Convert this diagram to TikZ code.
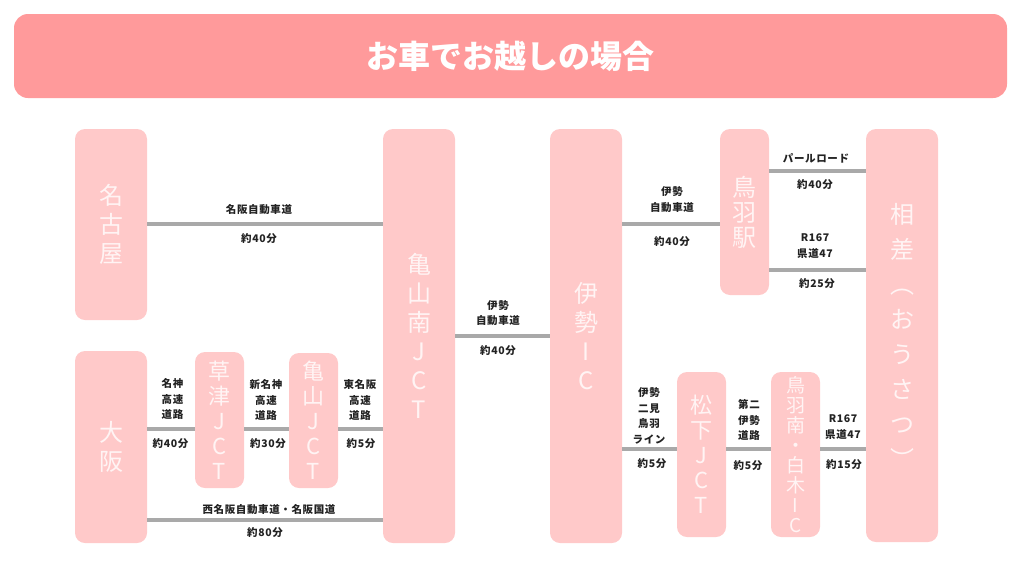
\documentclass[tikz,border=0pt]{standalone}
\usepackage{fontspec}
\setmainfont{Noto Sans CJK JP}
\newfontfamily\labelfont[LetterSpace=6]{Noto Sans CJK JP}
\definecolor{titlebg}{HTML}{FF9A9B}
\definecolor{boxbg}{HTML}{FFC9C9}
\definecolor{road}{HTML}{A9A9A9}
\definecolor{boxtext}{HTML}{FFF4F4}
\definecolor{labeltext}{HTML}{222222}
\tikzset{
  x=1pt,y=-1pt,
  stopbox/.style={fill=boxbg,rounded corners=10pt,inner sep=0pt,text=boxtext,align=center},
  bigstop/.style={stopbox,minimum width=72pt,font=\fontsize{24}{29}\selectfont},
  smallstop/.style={stopbox,minimum width=49pt,font=\fontsize{22}{25}\selectfont},
  roadline/.style={draw=road,line width=4pt},
  roadlabel/.style={inner sep=0pt,align=center,text=labeltext,font=\labelfont\bfseries\fontsize{10.5}{15.5}\selectfont},
}
\begin{document}
\begin{tikzpicture}
\useasboundingbox (0,0) rectangle (1024,576);
\node[fill=titlebg,rounded corners=14pt,minimum width=993pt,minimum height=84pt,inner sep=0pt,text=white,font=\bfseries\fontsize{32}{36}\selectfont] (title) at (510.5,56) {お車でお越しの場合};

\node[bigstop,minimum height=191pt] (nagoya) at (111,224.5) {名\\古\\屋};
\node[bigstop,minimum height=192pt] (osaka) at (111,447) {大\\阪};
\node[bigstop,minimum height=414pt] (kameyamaS) at (419,336) {亀\\山\\南\\J\\C\\T};
\node[bigstop,minimum height=414pt] (iseic) at (586,336) {伊\\勢\\I\\C};
\node[bigstop,minimum height=413pt,font=\fontsize{24}{35}\selectfont] (ousatsu) at (902,335.5) {相\\差\\︵\\お\\う\\さ\\つ\\︶};
\node[smallstop,minimum height=136pt] (kusatsu) at (219.5,420) {草\\津\\J\\C\\T};
\node[smallstop,minimum height=135pt] (kameyama) at (313.5,420.5) {亀\\山\\J\\C\\T};
\node[smallstop,minimum height=166pt,font=\fontsize{24}{25}\selectfont] (toba) at (744.5,212) {鳥\\羽\\駅};
\node[smallstop,minimum height=165pt] (matsushita) at (701.5,454.5) {松\\下\\J\\C\\T};
\node[smallstop,minimum height=165pt,font=\fontsize{19}{20}\selectfont] (tobaS) at (795.5,454.5) {鳥\\羽\\南\\・\\白\\木\\I\\C};

\draw[roadline] (nagoya.east |- 0,224) -- (kameyamaS.west |- 0,224);
\draw[roadline] (osaka.east |- 0,428.5) -- (kusatsu.west |- 0,428.5);
\draw[roadline] (kusatsu.east |- 0,428.5) -- (kameyama.west |- 0,428.5);
\draw[roadline] (kameyama.east |- 0,428.5) -- (kameyamaS.west |- 0,428.5);
\draw[roadline] (osaka.east |- 0,519.5) -- (kameyamaS.west |- 0,519.5);
\draw[roadline] (kameyamaS.east |- 0,336) -- (iseic.west |- 0,336);
\draw[roadline] (iseic.east |- 0,224) -- (toba.west |- 0,224);
\draw[roadline] (toba.east |- 0,170.5) -- (ousatsu.west |- 0,170.5);
\draw[roadline] (toba.east |- 0,269.5) -- (ousatsu.west |- 0,269.5);
\draw[roadline] (iseic.east |- 0,449) -- (matsushita.west |- 0,449);
\draw[roadline] (matsushita.east |- 0,449) -- (tobaS.west |- 0,449);
\draw[roadline] (tobaS.east |- 0,449) -- (ousatsu.west |- 0,449);

\node[roadlabel] (l1) at (259,209.5) {名阪自動車道};
\node[roadlabel] (t1) at (259,238.5) {約40分};
\node[roadlabel] (l2) at (172.5,399) {名神\\高速\\道路};
\node[roadlabel] (t2) at (170.5,443.5) {約40分};
\node[roadlabel] (l3) at (266,400) {新名神\\高速\\道路};
\node[roadlabel] (t3) at (268,443.5) {約30分};
\node[roadlabel] (l4) at (360,400) {東名阪\\高速\\道路};
\node[roadlabel] (t4) at (361,443.5) {約5分};
\node[roadlabel] (l5) at (269,509.5) {西名阪自動車道・名阪国道};
\node[roadlabel] (t5) at (265,533) {約80分};
\node[roadlabel] (l6) at (498,313) {伊勢\\自動車道};
\node[roadlabel] (t6) at (498,351) {約40分};
\node[roadlabel] (l7) at (672,199.5) {伊勢\\自動車道};
\node[roadlabel] (t7) at (672,241.5) {約40分};
\node[roadlabel] (l8) at (816,158) {パールロード};
\node[roadlabel] (t8) at (815,184.5) {約40分};
\node[roadlabel] (l9) at (815,246) {R167\\県道47};
\node[roadlabel] (t9) at (817,284) {約25分};
\node[roadlabel] (l10) at (649,416) {伊勢\\二見\\鳥羽\\ライン};
\node[roadlabel] (t10) at (652,464) {約5分};
\node[roadlabel] (l11) at (749,420) {第二\\伊勢\\道路};
\node[roadlabel] (t11) at (748,465.5) {約5分};
\node[roadlabel] (l12) at (843,427) {R167\\県道47};
\node[roadlabel] (t12) at (844,465) {約15分};
\end{tikzpicture}
\end{document}
